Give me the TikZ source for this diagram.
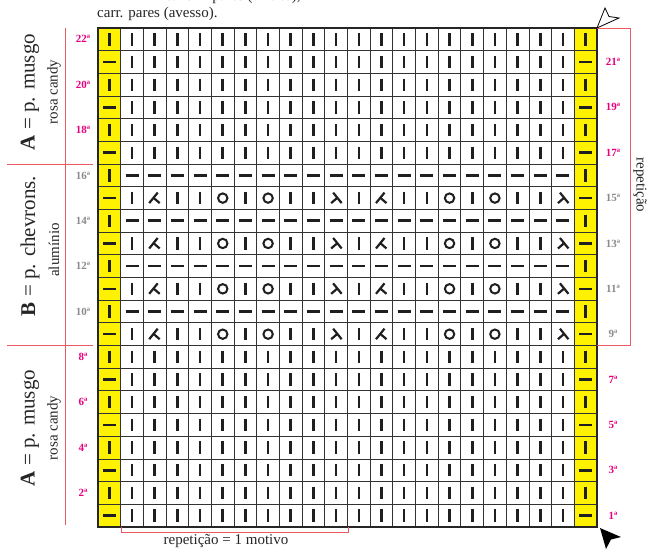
\documentclass[tikz,border=0pt]{standalone}
\usepackage{fontspec}
\setmainfont{Liberation Serif}
\definecolor{chartyellow}{HTML}{FFF200}
\definecolor{labmag}{HTML}{E6007E}
\definecolor{labgray}{HTML}{8A8A8A}
\definecolor{redline}{HTML}{EE5A64}
\tikzset{
  symbar/.style={line width=2.6pt, black!88},
  symthin/.style={line width=2.2pt, black!88},
  gridline/.style={line width=0.8pt, black!80},
  redrule/.style={line width=0.8pt, redline},
  rowlab/.style={font=\fontsize{11}{11}\selectfont\bfseries, inner sep=0pt},
  txt/.style={font=\fontsize{15}{15}\selectfont, inner sep=0pt},
  bigtxt/.style={font=\fontsize{21}{21}\selectfont, inner sep=0pt},
  vbar/.pic={\draw[symbar] (0,-6.2) -- (0,6.2);},
  hbar/.pic={\draw[symbar] (-6.5,0) -- (6.5,0);},
  ring/.pic={\draw[line width=2pt, black!88] (0,0) circle[radius=4.7pt];},
  kdec/.pic={\draw[symthin] (-5.5,5) -- (3,-5.5); \draw[symthin] (-1.2,-0.3) -- (5,5);},
  ldec/.pic={\draw[symthin] (5.5,5) -- (-3,-5.5); \draw[symthin] (1.2,-0.3) -- (-5,5);},
}
\begin{document}
\begin{tikzpicture}[x=1pt,y=-1pt]
\useasboundingbox (0,0) rectangle (648,554);
\def\cs{22.68}
% yellow edge columns
\fill[chartyellow] (98,28) rectangle ({98+\cs},527);
\fill[chartyellow] ({597-\cs},28) rectangle (597,527);
% grid
\foreach \i in {0,...,22}{
  \draw[gridline] ({98+\i*\cs},28) -- ({98+\i*\cs},527);
  \draw[gridline] (98,{28+\i*\cs}) -- (597,{28+\i*\cs});
}
\draw[line width=1.1pt, black!85] (98,28) rectangle (597,527);
% symbols
\foreach \r in {1,...,22}{
  \pgfmathsetmacro{\cy}{28+(22-\r+0.5)*\cs}
  \pgfmathtruncatemacro{\odd}{mod(\r,2)}
  \ifnum\odd=1
    \pic at ({98+0.5*\cs},\cy) {hbar};
    \pic at ({98+21.5*\cs},\cy) {hbar};
  \else
    \pic at ({98+0.5*\cs},\cy) {vbar};
    \pic at ({98+21.5*\cs},\cy) {vbar};
  \fi
}
% plain rows (A sections)
\foreach \r in {1,...,8,17,18,19,20,21,22}{
  \pgfmathsetmacro{\cy}{28+(22-\r+0.5)*\cs}
  \foreach \i in {1,...,20}{
    \pic at ({98+(\i+0.5)*\cs},\cy) {vbar};
  }
}
% B section: even rows knit dashes
\foreach \r in {10,12,14,16}{
  \pgfmathsetmacro{\cy}{28+(22-\r+0.5)*\cs}
  \foreach \i in {1,...,20}{
    \pic at ({98+(\i+0.5)*\cs},\cy) {hbar};
  }
}
% B section: odd chevron rows
\foreach \r in {9,11,13,15}{
  \pgfmathsetmacro{\cy}{28+(22-\r+0.5)*\cs}
  \foreach \i in {1,3,4,6,8,9,11,13,14,16,18,19}{
    \pic at ({98+(\i+0.5)*\cs},\cy) {vbar};
  }
  \foreach \i in {5,7,15,17}{
    \pic at ({98+(\i+0.5)*\cs},\cy) {ring};
  }
  \foreach \i in {2,12}{
    \pic at ({98+(\i+0.5)*\cs},\cy) {kdec};
  }
  \foreach \i in {10,20}{
    \pic at ({98+(\i+0.5)*\cs},\cy) {ldec};
  }
}
% row labels
\foreach \r in {2,4,6,8,18,20,22}{
  \node[rowlab, text=labmag] (L\r) at (83,{28+(22-\r+0.5)*\cs}) {\r ª};
}
\foreach \r in {10,12,14,16}{
  \node[rowlab, text=labgray] (L\r) at (83,{28+(22-\r+0.5)*\cs}) {\r ª};
}
\foreach \r in {1,3,5,7,17,19,21}{
  \node[rowlab, text=labmag] (R\r) at (613,{28+(22-\r+0.5)*\cs}) {\r ª};
}
\foreach \r in {9,11,13,15}{
  \node[rowlab, text=labgray] (R\r) at (613,{28+(22-\r+0.5)*\cs}) {\r ª};
}
% red rules left
\draw[redrule] (65,28) -- (65,525);
\draw[redrule] (7,164) -- (93,164);
\draw[redrule] (7,345.5) -- (93,345.5);
% red repeat box right
\draw[redrule] (597,28) -- (630,28) -- (630,345.5) -- (597,345.5);
% bottom bracket
\draw[redrule] (121,527) -- (121,532) -- (348,532) -- (348,527);
% section labels
\node[bigtxt, rotate=90, black!85] (secA1) at (30,92) {\textbf{A} = p. musgo};
\node[txt, rotate=90, black!85] (colA1) at (54,92) {rosa candy};
\node[bigtxt, rotate=90, black!85] (secB) at (30,246) {\textbf{B} = p. chevrons.};
\node[txt, rotate=90, black!85] (colB) at (54,250) {alumínio};
\node[bigtxt, rotate=90, black!85] (secA2) at (30,428) {\textbf{A} = p. musgo};
\node[txt, rotate=90, black!85] (colA2) at (54,428) {rosa candy};
\node[txt, rotate=-90, black!85] (rep) at (640,185) {repetição};
\node[txt, black!85] (motif) at (226,541) {repetição = 1 motivo};
% top texts
\node[txt, anchor=base west, black!85] (top1) at (165,0.5) {carr. ímpares (direito),};
\node[txt, anchor=base west, black!85] (top2) at (97,17.5) {carr. pares (avesso).};
% arrows
\draw[line width=0.8pt, fill=white] (597,28) -- (605,8) -- (609,16.5) -- (619,18) -- cycle;
\fill[black] (600,528) -- (621,537) -- (611,539.5) -- (606,549) -- cycle;
\end{tikzpicture}
\end{document}
